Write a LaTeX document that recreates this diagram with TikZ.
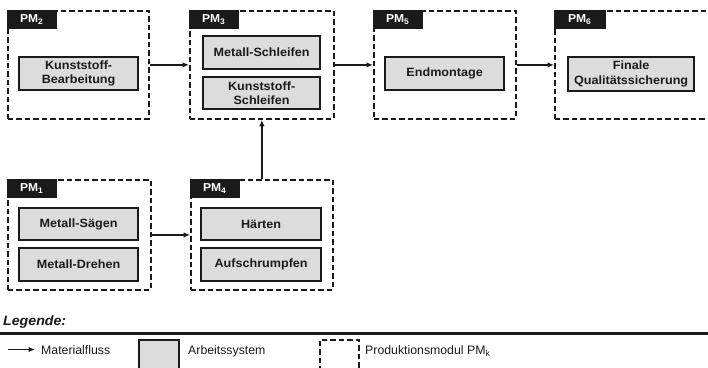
\documentclass[tikz,border=0pt]{standalone}
\usepackage{fontspec}
\setmainfont{Liberation Sans}[FakeStretch=1.05]
\newfontfamily\legfont{Liberation Sans}
\usetikzlibrary{arrows.meta}
\definecolor{boxfill}{HTML}{DCDCDC}
\definecolor{ink}{HTML}{1A1A1A}
\tikzset{
  module/.style={draw=ink, line width=1.8pt, dash pattern=on 5.5pt off 3pt,
    anchor=north west, inner sep=0pt},
  tab/.style={fill=ink, draw=ink, anchor=north west, minimum width=49pt,
    minimum height=18pt, inner sep=0pt, text=white,
    font=\fontsize{11.5}{13}\selectfont\bfseries},
  worksys/.style={draw=ink, fill=boxfill, line width=2.2pt, anchor=north west,
    minimum width=119pt, minimum height=33pt, inner sep=0pt, align=center,
    text=ink, font=\fontsize{12}{14.5}\selectfont\bfseries},
  flow/.style={draw=ink, line width=1.6pt, -{Latex[length=6.5pt,width=5.5pt]}},
  legtext/.style={anchor=base west, inner sep=0pt, text=ink,
    font=\legfont\fontsize{12.3}{14}\selectfont}
}
\begin{document}
\begin{tikzpicture}[x=1pt, y=-1pt]
  \clip (0,0) rectangle (708,367);
  \fill[white] (0,0) rectangle (708,367);

  % production modules (dashed frames)
  \node[module, minimum width=141pt, minimum height=108pt] (pm2) at (7,10) {};
  \node[module, minimum width=144pt, minimum height=108pt] (pm3) at (189,10) {};
  \node[module, minimum width=142pt, minimum height=108pt] (pm5) at (373,10) {};
  \node[module, minimum width=162pt, minimum height=108pt] (pm6) at (554,10) {};
  \node[module, minimum width=143pt, minimum height=110pt] (pm1) at (7,179) {};
  \node[module, minimum width=142pt, minimum height=110pt] (pm4) at (190,179) {};

  % module tabs
  \node[tab] (pm2tab) at (pm2.north west) {PM\textsubscript{2}};
  \node[tab] (pm3tab) at (pm3.north west) {PM\textsubscript{3}};
  \node[tab] (pm5tab) at (pm5.north west) {PM\textsubscript{5}};
  \node[tab, minimum width=51pt] (pm6tab) at (pm6.north west) {PM\textsubscript{6}};
  \node[tab] (pm1tab) at (pm1.north west) {PM\textsubscript{1}};
  \node[tab] (pm4tab) at (pm4.north west) {PM\textsubscript{4}};

  % work systems
  \node[worksys] (kbearb) at (18,56) {Kunststoff-\\Bearbeitung};
  \node[worksys, minimum width=117pt] (mschl) at (202,35) {Metall-Schleifen};
  \node[worksys, minimum width=117pt, minimum height=32pt] (kschl) at (202,76) {Kunststoff-\\Schleifen};
  \node[worksys] (endm) at (384,56) {Endmontage};
  \node[worksys, minimum width=126pt, minimum height=34pt] (qs) at (567,56) {Finale\\Qualitätssicherung};
  \node[worksys, minimum height=32pt] (saegen) at (18,207) {Metall-Sägen};
  \node[worksys] (drehen) at (18,247) {Metall-Drehen};
  \node[worksys, minimum width=120pt, minimum height=32pt] (haerten) at (200,207) {Härten};
  \node[worksys, minimum width=120pt] (aufschr) at (200,247) {Aufschrumpfen};

  % material flow
  \draw[flow] (pm2.east) -- (pm3.west);
  \draw[flow] (pm3.east) -- (pm5.west);
  \draw[flow] (pm5.east) -- (pm6.west);
  \draw[flow] (pm1.east) -- (pm4.west);
  \draw[flow] (pm4.north) -- (pm3.south);

  % legend
  \node[anchor=west, inner sep=0pt, text=ink,
    font=\fontsize{13.5}{15}\selectfont\bfseries\itshape] (legtitle) at (3,322) {Legende:};
  \coordinate (ruleL) at (0,333.5);
  \coordinate (ruleR) at (708,333.5);
  \draw[ink, line width=2.2pt] (ruleL) -- (ruleR);

  \coordinate (legA) at (8,349.5);
  \coordinate (legB) at (35,349.5);
  \draw[flow] (legA) -- (legB);
  \node[legtext] (legflow) at (41,354) {Materialfluss};

  \node[draw=ink, fill=boxfill, line width=2.2pt, anchor=north west,
    minimum width=40pt, minimum height=40pt, inner sep=0pt] (legbox) at (138,339) {};
  \node[legtext] (legsys) at (188,354) {Arbeitssystem};

  \node[module, minimum width=39pt, minimum height=40pt] (legmod) at (319,339) {};
  \node[legtext] (legpm) at (365,354) {Produktionsmodul PM\textsubscript{k}};
\end{tikzpicture}
\end{document}
